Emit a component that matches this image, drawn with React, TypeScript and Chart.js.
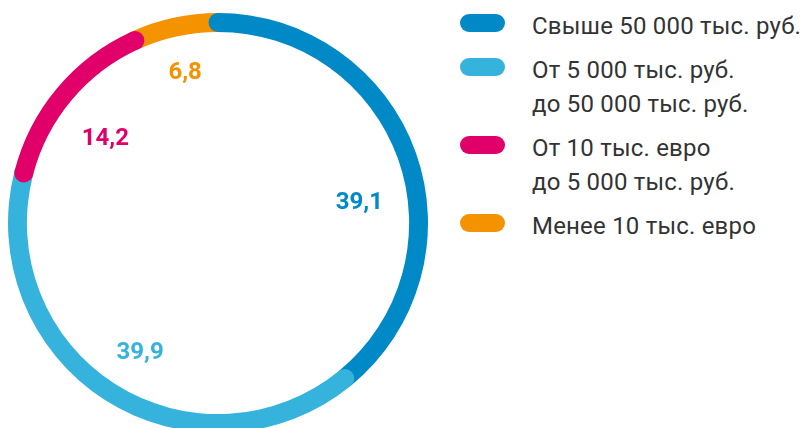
import React, { useEffect, useRef } from "react";
import { Chart, registerables } from "chart.js";

Chart.register(...registerables);

// ---- data ----
const categories = [
  "Свыше 50 000 тыс. руб.",
  "От 5 000 тыс. руб.\nдо 50 000 тыс. руб.",
  "От 10 тыс. евро\nдо 5 000 тыс. руб.",
  "Менее 10 тыс. евро",
];
const shares = [39.1, 39.9, 14.2, 6.8];

// ---- style ----
const colors = ["#0089c7", "#35b3dc", "#e1006a", "#f49200"];
const capStart = [true, true, true, false];
const capEnd = [false, false, true, false];
const labelPlacement = [
  { dAngle: 11, r: 143 },
  { dAngle: -1.5, r: 151 },
  { dAngle: -3, r: 141 },
  { dAngle: 0, r: 155 },
];

const fmt = (v: number) => v.toFixed(1).replace(".", ",");

const ringPlugin = {
  id: "ringCapsLabels",
  afterDatasetsDraw(chart: any) {
    const ctx = chart.ctx;
    const meta = chart.getDatasetMeta(0);
    ctx.save();
    meta.data.forEach((arc: any, i: number) => {
      const { x, y, startAngle, endAngle, innerRadius, outerRadius } = arc.getProps(
        ["x", "y", "startAngle", "endAngle", "innerRadius", "outerRadius"],
        true
      );
      const rMid = (innerRadius + outerRadius) / 2;
      const capR = (outerRadius - innerRadius) / 2;
      ctx.fillStyle = colors[i];
      const drawCap = (a: number) => {
        ctx.beginPath();
        ctx.arc(x + Math.cos(a) * rMid, y + Math.sin(a) * rMid, capR, 0, Math.PI * 2);
        ctx.fill();
      };
      if (capStart[i]) drawCap(startAngle);
      if (capEnd[i]) drawCap(endAngle);
    });
    meta.data.forEach((arc: any, i: number) => {
      const { x, y, startAngle, endAngle } = arc.getProps(["x", "y", "startAngle", "endAngle"], true);
      const p = labelPlacement[i];
      const mid = (startAngle + endAngle) / 2 + (p.dAngle * Math.PI) / 180;
      ctx.fillStyle = colors[i];
      ctx.font = "bold 24px Roboto";
      ctx.textAlign = "center";
      ctx.textBaseline = "middle";
      ctx.fillText(fmt(shares[i]), x + Math.cos(mid) * p.r, y + Math.sin(mid) * p.r + 1);
    });
    ctx.restore();
  },
};

export default function App() {
  const ref = useRef<HTMLCanvasElement | null>(null);
  useEffect(() => {
    if (!ref.current) return;
    const chart = new Chart(ref.current, {
      type: "doughnut",
      data: {
        labels: categories,
        datasets: [
          {
            data: shares,
            backgroundColor: colors,
            borderWidth: 0,
          },
        ],
      },
      options: {
        animation: false,
        responsive: false,
        cutout: "91%",
        rotation: 0,
        layout: { padding: 0 },
        plugins: { legend: { display: false }, tooltip: { enabled: false } },
      },
      plugins: [ringPlugin],
    });
    return () => chart.destroy();
  }, []);

  return (
    <div
      style={{
        position: "fixed",
        left: 0,
        top: 0,
        width: 802,
        height: 428,
        overflow: "hidden",
        background: "#fff",
      }}
    >
      <canvas
        ref={ref}
        width={420}
        height={420}
        style={{ position: "absolute", left: 8, top: 13, width: 420, height: 420 }}
      />
      <div
        style={{
          position: "absolute",
          left: 460,
          top: 9,
          fontFamily: "Roboto",
          fontSize: 24,
          lineHeight: "34px",
          letterSpacing: "0.2px",
          color: "#333",
        }}
      >
        {categories.map((c, i) => (
          <div key={i} style={{ position: "relative", paddingLeft: 72, marginBottom: 10 }}>
            <span
              style={{
                position: "absolute",
                left: 0,
                top: 5,
                width: 45,
                height: 18,
                borderRadius: 9,
                background: colors[i],
              }}
            />
            {c.split("\n").map((line, j) => (
              <div key={j} style={{ whiteSpace: "nowrap" }}>
                {line}
              </div>
            ))}
          </div>
        ))}
      </div>
    </div>
  );
}
